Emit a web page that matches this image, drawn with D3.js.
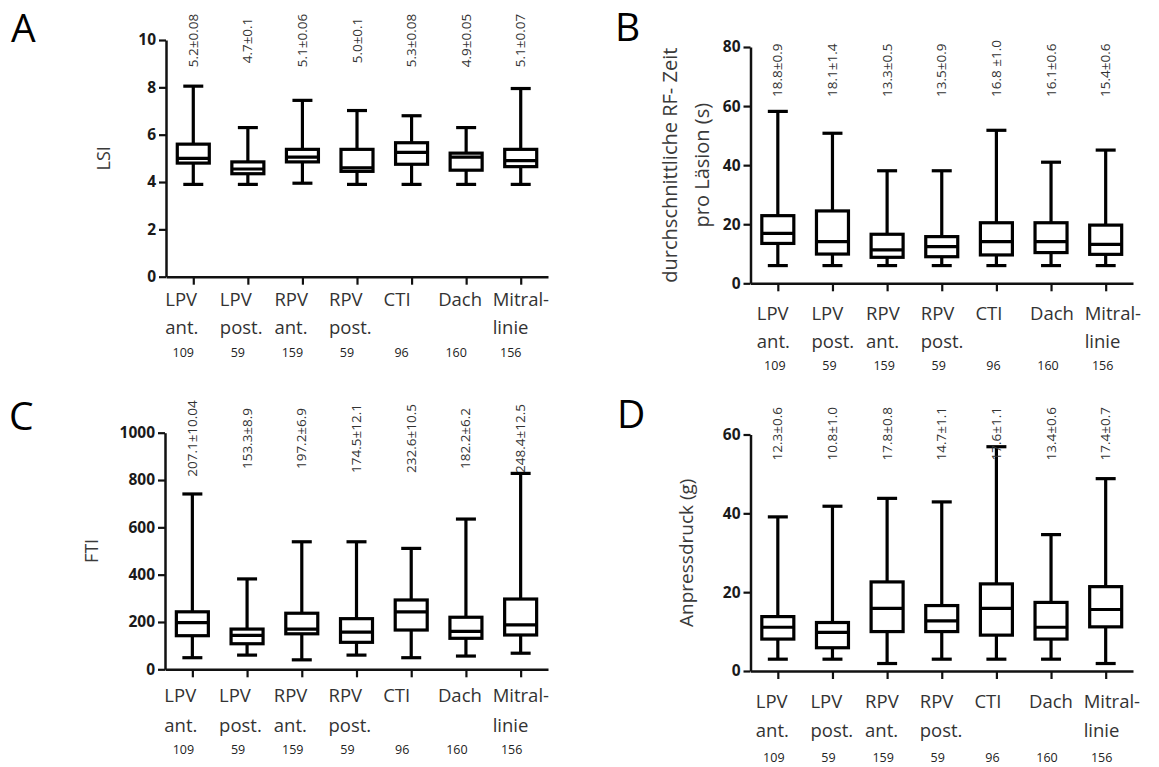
<!DOCTYPE html>
<html>
<head>
<meta charset="utf-8">
<script src="https://cdn.jsdelivr.net/npm/d3@7"></script>
<style>
  body { margin: 0; background: #fff; }
  svg { display: block; }
  text { font-family: "Open Sans", sans-serif; }
</style>
</head>
<body>
<svg id="fig" width="1159" height="767"></svg>
<script>
// Ablation sites (two-line labels) and number of lesions per site
const catTop    = ["LPV", "LPV", "RPV", "RPV", "CTI", "Dach", "Mitral-"];
const catBottom = ["ant.", "post.", "ant.", "post.", "", "", "linie"];
const counts    = [109, 59, 159, 59, 96, 160, 156];

// A: LSI
const lsiTicks  = [0, 2, 4, 6, 8, 10];
const lsiMin    = [3.9, 3.9, 3.95, 3.9, 3.9, 3.9, 3.9];
const lsiQ1     = [4.8, 4.35, 4.85, 4.45, 4.75, 4.5, 4.65];
const lsiMedian = [5.0, 4.55, 5.05, 4.6, 5.25, 5.05, 4.9];
const lsiQ3     = [5.6, 4.85, 5.38, 5.38, 5.66, 5.22, 5.38];
const lsiMax    = [8.05, 6.3, 7.45, 7.02, 6.8, 6.3, 7.95];
const lsiMean   = ["5.2±0.08", "4.7±0.1", "5.1±0.06", "5.0±0.1", "5.3±0.08", "4.9±0.05", "5.1±0.07"];

// B: mean RF time per lesion (s)
const rfTicks  = [0, 20, 40, 60, 80];
const rfMin    = [6, 6, 6, 6, 6, 6, 6];
const rfQ1     = [13.5, 9.9, 8.8, 9.0, 9.6, 10.4, 9.8];
const rfMedian = [16.9, 14.1, 11.3, 12.4, 14.1, 14.1, 13.2];
const rfQ3     = [22.9, 24.5, 16.6, 15.8, 20.5, 20.5, 19.7];
const rfMax    = [58.2, 50.8, 38.1, 38.1, 51.8, 41.0, 45.1];
const rfMean   = ["18.8±0.9", "18.1±1.4", "13.3±0.5", "13.5±0.9", "16.8 ±1.0", "16.1±0.6", "15.4±0.6"];

// C: FTI
const ftiTicks  = [0, 200, 400, 600, 800, 1000];
const ftiMin    = [49, 60, 40, 60, 49, 56, 68];
const ftiQ1     = [142, 108, 150, 114, 166, 131, 145];
const ftiMedian = [197, 143, 170, 157, 243, 160, 188];
const ftiQ3     = [243, 170, 237, 214, 293, 220, 297];
const ftiMax    = [741, 382, 539, 539, 511, 635, 828];
const ftiMean   = ["207.1±10.04", "153.3±8.9", "197.2±6.9", "174.5±12.1", "232.6±10.5", "182.2±6.2", "248.4±12.5"];

// D: contact force (g)
const forceTicks  = [0, 20, 40, 60];
const forceMin    = [3.0, 3.0, 1.9, 3.0, 3.0, 3.0, 1.9];
const forceQ1     = [8.1, 5.9, 10.0, 10.0, 9.1, 8.1, 11.2];
const forceMedian = [11.1, 9.8, 15.9, 12.7, 15.9, 11.1, 15.6];
const forceQ3     = [13.8, 12.3, 22.6, 16.6, 22.1, 17.4, 21.4];
const forceMax    = [39.1, 41.8, 43.8, 42.9, 56.9, 34.6, 48.8];
const forceMean   = ["12.3±0.6", "10.8±1.0", "17.8±0.8", "14.7±1.1", "17.6±1.1", "13.4±0.6", "17.4±0.7"];

const svg = d3.select("#fig");

const panels = [
  { letter: "A", lx: 11, ly: 42, x0: 166, x1: 548, yTop: 40, yZero: 276.7, max: 10, ticks: lsiTicks,
    min: lsiMin, q1: lsiQ1, med: lsiMedian, q3: lsiQ3, hi: lsiMax, mean: lsiMean,
    title: ["LSI"], titleX: [103], titleSize: 18, meanY: 40.5, meanAnchor: "middle",
    catDx: -28, cntDx: -10, l1: 29.3, l2: 56.8, l3: 80.3 },
  { letter: "B", lx: 615, ly: 41, x0: 750.5, x1: 1133, yTop: 47, yZero: 283.3, max: 80, ticks: rfTicks,
    min: rfMin, q1: rfQ1, med: rfMedian, q3: rfQ3, hi: rfMax, mean: rfMean,
    title: ["durchschnittliche RF- Zeit", "pro Läsion (s)"], titleX: [669.5, 701], titleSize: 20,
    meanY: 97, meanAnchor: "start",
    catDx: -21, cntDx: -3, l1: 36.7, l2: 64.7, l3: 86.7 },
  { letter: "C", lx: 9, ly: 430, x0: 165, x1: 548, yTop: 432.7, yZero: 669.3, max: 1000, ticks: ftiTicks,
    min: ftiMin, q1: ftiQ1, med: ftiMedian, q3: ftiQ3, hi: ftiMax, mean: ftiMean,
    title: ["FTI"], titleX: [91], titleSize: 18, meanY: 438.5, meanAnchor: "middle",
    catDx: -28, cntDx: -9, l1: 32.4, l2: 62.4, l3: 84.7 },
  { letter: "D", lx: 617, ly: 428, x0: 750.5, x1: 1133, yTop: 434.5, yZero: 671, max: 60, ticks: forceTicks,
    min: forceMin, q1: forceQ1, med: forceMedian, q3: forceQ3, hi: forceMax, mean: forceMean,
    title: ["Anpressdruck (g)"], titleX: [686], titleSize: 19, meanY: 460.5, meanAnchor: "start",
    catDx: -22, cntDx: -4, l1: 37, l2: 65.7, l3: 91 }
];

const boxHalf = 16, capHalf = 10;

panels.forEach(p => {
  const g = svg.append("g");
  const x = d3.scalePoint().domain(d3.range(catTop.length)).range([p.x0, p.x1]).padding(0.5);
  const y = d3.scaleLinear().domain([0, p.max]).range([p.yZero, p.yTop]);

  // panel letter
  g.append("text").attr("x", p.lx).attr("y", p.ly)
    .attr("font-size", 39).attr("fill", "#000").text(p.letter);

  // y axis
  const ya = g.append("g").attr("transform", `translate(${p.x0},0)`)
    .call(d3.axisLeft(y).tickValues(p.ticks).tickFormat(d3.format("d"))
      .tickSize(7).tickSizeOuter(0).tickPadding(3));
  ya.select(".domain").attr("stroke", "#111").attr("stroke-width", 2.5);
  ya.selectAll(".tick line").attr("stroke", "#111").attr("stroke-width", 2.2);
  ya.selectAll(".tick text").attr("font-family", "'Liberation Sans', Arial, sans-serif")
    .attr("font-weight", "bold").attr("font-size", 15.5).attr("fill", "#1a1a1a");

  // x axis
  const xa = g.append("g").attr("transform", `translate(0,${p.yZero})`)
    .call(d3.axisBottom(x).tickSize(8).tickSizeOuter(0).tickFormat(""));
  xa.select(".domain").attr("stroke", "#111").attr("stroke-width", 2.5);
  xa.selectAll(".tick line").attr("stroke", "#111").attr("stroke-width", 2.2);

  // y axis title
  const ym = (p.yTop + p.yZero) / 2;
  p.title.forEach((t, k) => {
    g.append("text")
      .attr("transform", `translate(${p.titleX[k]},${ym}) rotate(-90)`)
      .attr("text-anchor", "middle").attr("dominant-baseline", "central")
      .attr("font-size", p.titleSize).attr("fill", "#3a3a3a").text(t);
  });

  // boxes and whiskers
  const idx = d3.range(catTop.length);
  const box = g.append("g").attr("stroke", "#000").attr("stroke-width", 3.2).attr("fill", "none");
  idx.forEach(i => {
    const cx = x(i);
    box.append("line").attr("x1", cx).attr("x2", cx).attr("y1", y(p.q3[i])).attr("y2", y(p.hi[i]));
    box.append("line").attr("x1", cx).attr("x2", cx).attr("y1", y(p.q1[i])).attr("y2", y(p.min[i]));
    box.append("line").attr("x1", cx - capHalf).attr("x2", cx + capHalf).attr("y1", y(p.hi[i])).attr("y2", y(p.hi[i]));
    box.append("line").attr("x1", cx - capHalf).attr("x2", cx + capHalf).attr("y1", y(p.min[i])).attr("y2", y(p.min[i]));
    box.append("rect").attr("x", cx - boxHalf).attr("width", 2 * boxHalf)
      .attr("y", y(p.q3[i])).attr("height", y(p.q1[i]) - y(p.q3[i])).attr("fill", "#fff");
    box.append("line").attr("x1", cx - boxHalf).attr("x2", cx + boxHalf)
      .attr("y1", y(p.med[i])).attr("y2", y(p.med[i]));
  });

  // mean ± SEM labels
  idx.forEach(i => {
    g.append("text")
      .attr("transform", `translate(${x(i) - 0.5},${p.meanY}) rotate(-90)`)
      .attr("text-anchor", p.meanAnchor).attr("dominant-baseline", "central")
      .attr("font-size", 13.5).attr("fill", "#333").text(p.mean[i]);
  });

  // category labels and counts
  idx.forEach(i => {
    const lx = x(i) + p.catDx;
    g.append("text").attr("x", lx).attr("y", p.yZero + p.l1)
      .attr("font-size", 18.5).attr("fill", "#333").text(catTop[i]);
    if (catBottom[i]) {
      g.append("text").attr("x", lx).attr("y", p.yZero + p.l2)
        .attr("font-size", 18.5).attr("fill", "#333").text(catBottom[i]);
    }
    g.append("text").attr("x", x(i) + p.cntDx).attr("y", p.yZero + p.l3)
      .attr("text-anchor", "middle").attr("font-size", 12.5).attr("fill", "#222").text(counts[i]);
  });
});
</script>
</body>
</html>
